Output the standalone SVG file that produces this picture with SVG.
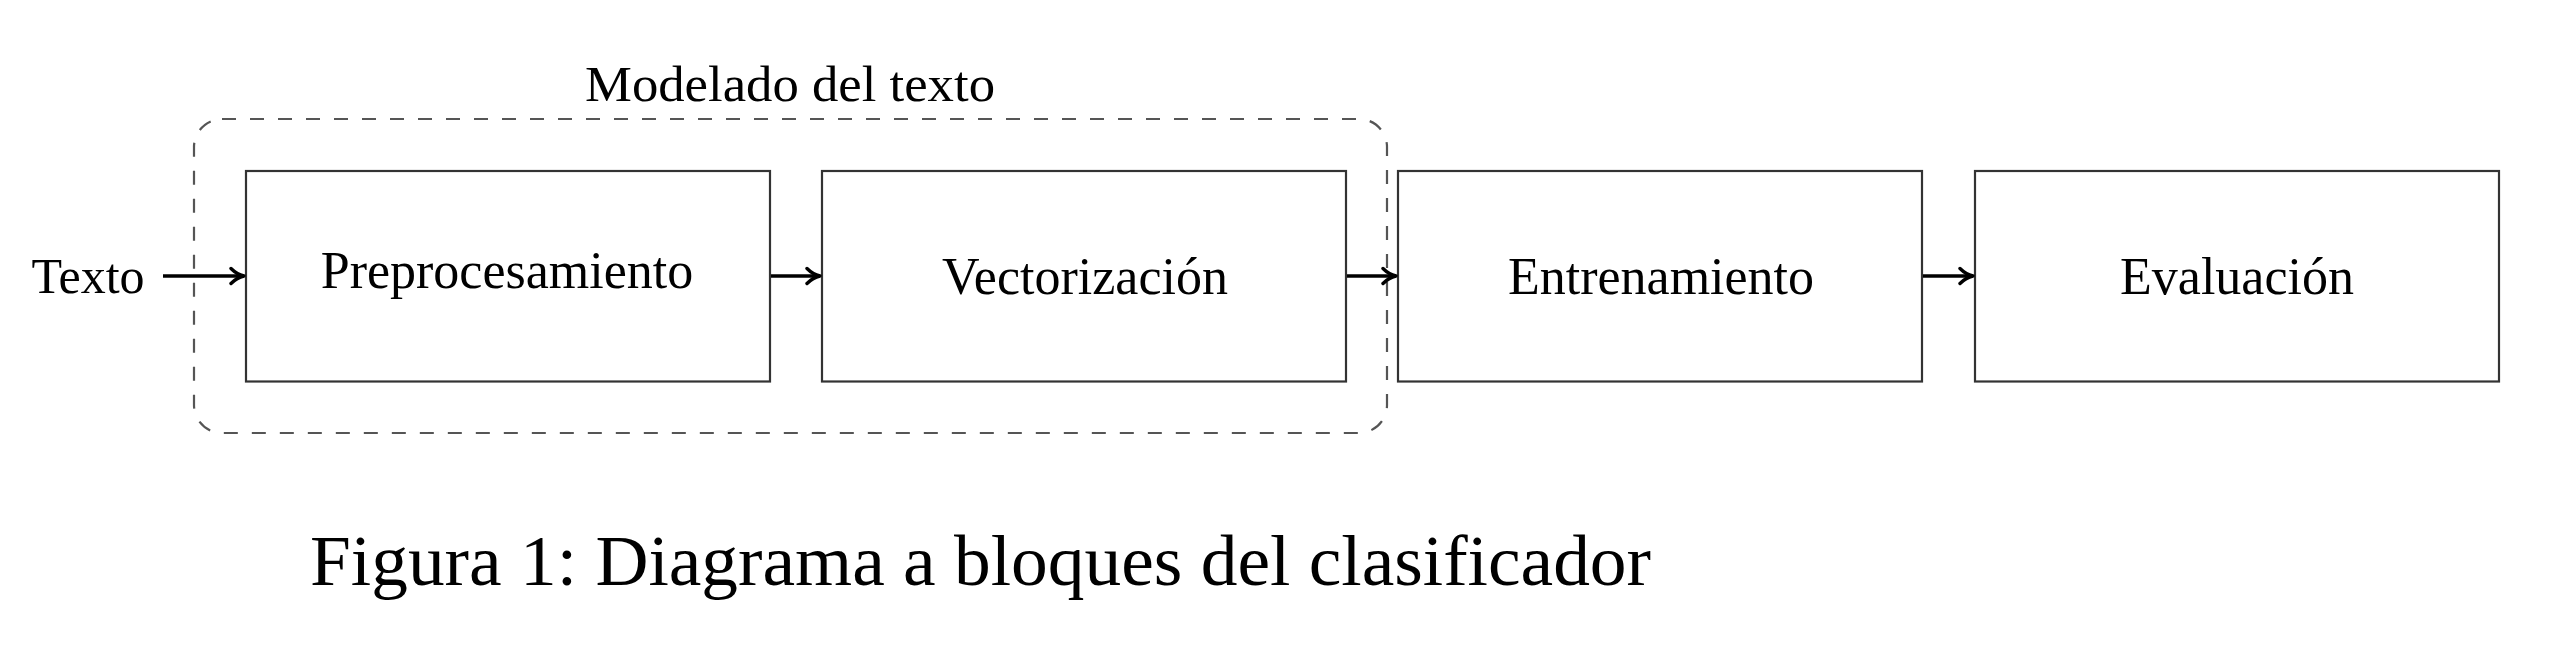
<svg xmlns="http://www.w3.org/2000/svg" width="2574" height="670" viewBox="0 0 2574 670">
<style>
text{font-family:"Liberation Serif","Times New Roman",serif;fill:#000}
.box{fill:#fff;stroke:#333;stroke-width:2.2}
.lbl{font-size:52px;text-anchor:middle}
.conn{stroke:#000;stroke-width:3.6;fill:none;marker-end:url(#ah)}
.grp{fill:none;stroke:#555;stroke-width:2.2;stroke-dasharray:14 14}
</style>
<defs>
<marker id="ah" viewBox="0 0 20 20" refX="18" refY="10" markerWidth="20" markerHeight="20" markerUnits="userSpaceOnUse" orient="auto">
<path d="M5,2.5 Q11,8.5 18,10 Q11,11.5 5,17.5" fill="none" stroke="#000" stroke-width="3.4" stroke-linecap="round" stroke-linejoin="round"/>
</marker>
</defs>
<rect id="bg" x="0" y="0" width="2574" height="670" fill="#fff"/>
<g id="group-modelado">
<rect class="grp" x="194" y="119" width="1193" height="314" rx="28" ry="28"/>
<text x="790" y="101" font-size="50" text-anchor="middle" textLength="410" lengthAdjust="spacingAndGlyphs">Modelado del texto</text>
</g>
<g id="node-texto">
<text x="88" y="293" font-size="50" text-anchor="middle">Texto</text>
</g>
<g id="node-preprocesamiento">
<rect class="box" x="246" y="171" width="524" height="210.5"/>
<text class="lbl" x="507" y="288">Preprocesamiento</text>
</g>
<g id="node-vectorizacion">
<rect class="box" x="822" y="171" width="524" height="210.5"/>
<text class="lbl" x="1085" y="294">Vectorización</text>
</g>
<g id="node-entrenamiento">
<rect class="box" x="1398" y="171" width="524" height="210.5"/>
<text class="lbl" x="1661" y="294">Entrenamiento</text>
</g>
<g id="node-evaluacion">
<rect class="box" x="1975" y="171" width="524" height="210.5"/>
<text class="lbl" x="2237" y="294">Evaluación</text>
</g>
<g id="connectors">
<line class="conn" x1="163" y1="276" x2="244" y2="276"/>
<line class="conn" x1="771" y1="276" x2="820" y2="276"/>
<line class="conn" x1="1347" y1="276" x2="1396" y2="276"/>
<line class="conn" x1="1923" y1="276" x2="1973" y2="276"/>
</g>
<g id="caption">
<text x="310" y="585" font-size="72" textLength="1341" lengthAdjust="spacingAndGlyphs">Figura 1: Diagrama a bloques del clasificador</text>
</g>
</svg>
